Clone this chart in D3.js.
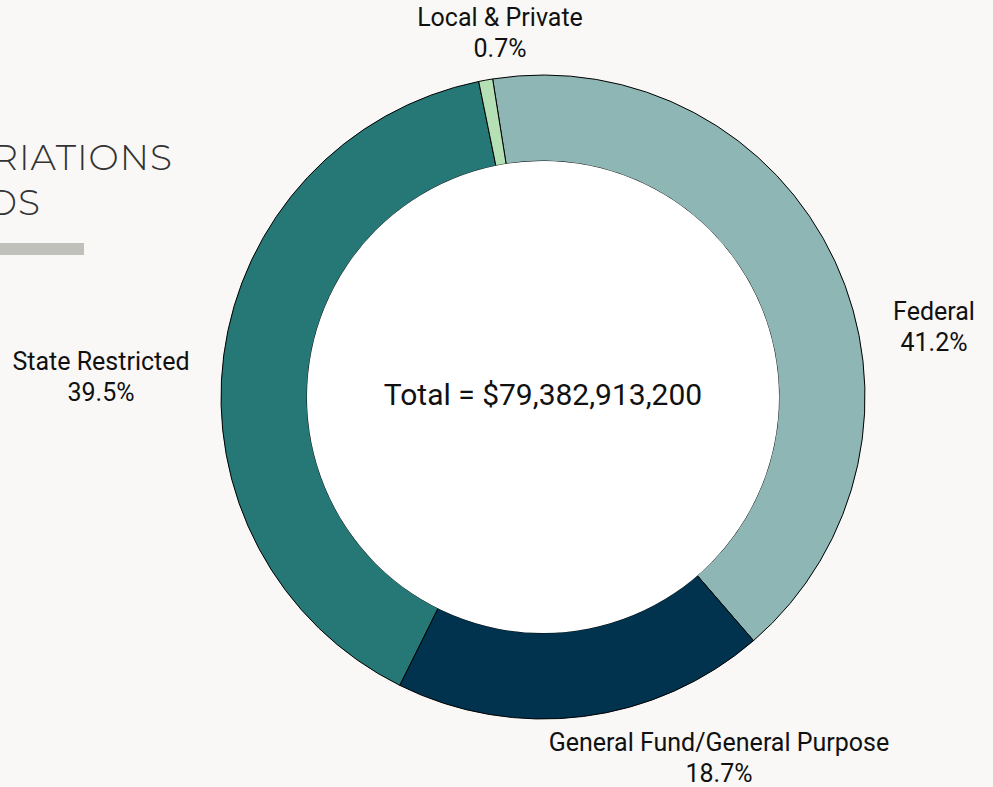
<!DOCTYPE html>
<html>
<head>
<meta charset="utf-8">
<script src="https://cdn.jsdelivr.net/npm/d3@7"></script>
<style>
  html, body { margin: 0; padding: 0; background: #f9f8f6; }
  #box1 { width: 993px; height: 787px; }
  .lbl { font-family: Roboto, "Noto Sans", sans-serif; fill: #111; }
  .title { font-family: Montserrat, "Open Sans", sans-serif; font-weight: 300; font-size: 36px; fill: #333; letter-spacing: 1px; }
</style>
</head>
<body>
<div id="box1"><svg id="box1_svg"></svg></div>
<script>
"use strict";

// data
const categories = ['Federal', 'General Fund/General Purpose', 'State Restricted', 'Local & Private'];
const shares = [41.2, 18.7, 39.5, 0.7];
const share_labels = ['41.2%', '18.7%', '39.5%', '0.7%'];
const colors = ['#8db6b4', '#01334e', '#267876', '#b5e0b5'];
const total_label = 'Total = $79,382,913,200';
const title_lines = ['APPROPRIATIONS', 'FUNDS'];

const draw_donut = () => {
  const p = {
    div_id: 'box1',
    svg_id: 'box1_svg',
    cx: 543,
    cy: 397,
    r_outer: 322,
    r_inner: 236,
    start_deg: -9,
    label_size: 25,
    total_size: 30,
  };

  const ddiv = d3.select('#' + p.div_id);
  const w = +ddiv.node().offsetWidth,
    h = +ddiv.node().offsetHeight;

  const svg = d3.select('#' + p.svg_id)
    .attr('width', w)
    .attr('height', h);

  // title block, clipped at the left edge like the original slide
  svg.selectAll('text.title')
    .data(title_lines)
    .join('text')
    .attr('class', 'title')
    .attr('x', (d, i) => i == 0 ? 173 : 41)
    .attr('y', (d, i) => 170 + i * 45)
    .attr('text-anchor', 'end')
    .text(d => d);

  svg.append('rect')
    .attr('x', 0).attr('y', 243)
    .attr('width', 84).attr('height', 12)
    .attr('fill', '#c1c1bb');

  const start = p.start_deg * Math.PI / 180;
  const pie = d3.pie().sort(null).value(d => d)
    .startAngle(start).endAngle(start + 2 * Math.PI);
  const arc = d3.arc().innerRadius(p.r_inner).outerRadius(p.r_outer);

  const g = svg.append('g').attr('transform', `translate(${p.cx},${p.cy})`);

  g.selectAll('path')
    .data(pie(shares))
    .join('path')
    .attr('d', arc)
    .attr('fill', (d, i) => colors[i])
    .attr('stroke', '#000')
    .attr('stroke-width', 1);

  g.append('circle')
    .attr('r', p.r_inner)
    .attr('fill', '#fff');

  g.append('text')
    .attr('class', 'lbl')
    .attr('text-anchor', 'middle')
    .attr('y', 8)
    .attr('font-size', p.total_size)
    .text(total_label);

  // outside labels
  const label_pos = [[934, 320], [719, 751], [101, 370], [500, 26]];
  categories.forEach((c, i) => {
    const t = svg.append('text')
      .attr('class', 'lbl')
      .attr('font-size', p.label_size)
      .attr('text-anchor', 'middle')
      .attr('x', label_pos[i][0])
      .attr('y', label_pos[i][1]);
    t.append('tspan').attr('x', label_pos[i][0]).text(c);
    t.append('tspan').attr('x', label_pos[i][0]).attr('dy', 31).text(share_labels[i]);
  });
};

draw_donut();
</script>
</body>
</html>
